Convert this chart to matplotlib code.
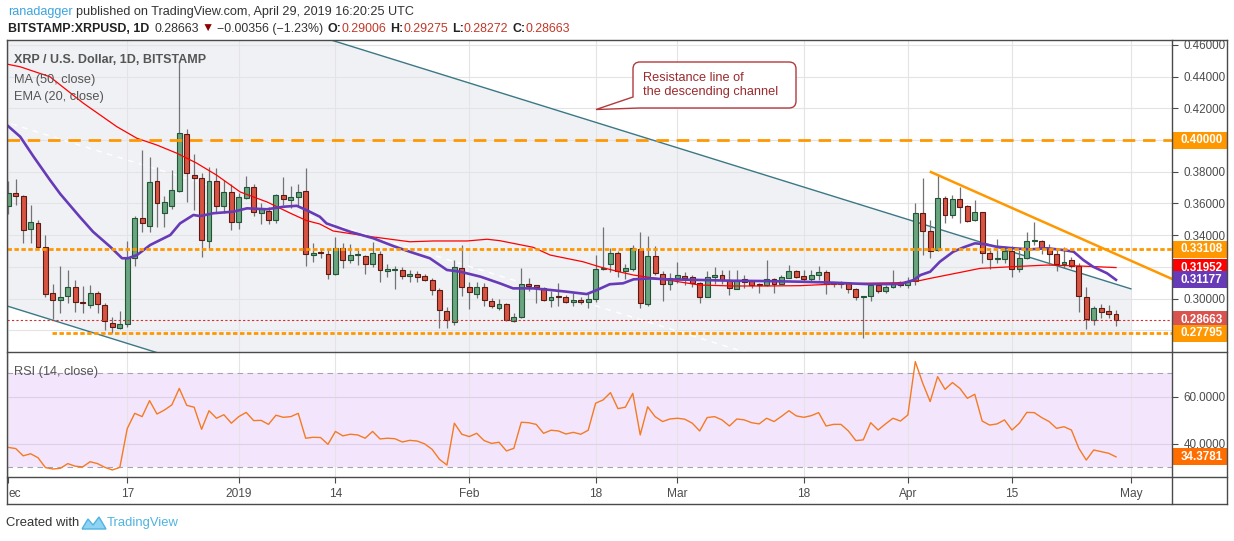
import numpy as np
import matplotlib
matplotlib.use("Agg")
import matplotlib.pyplot as plt
from matplotlib.lines import Line2D
from matplotlib.patches import Rectangle, PathPatch
from matplotlib.path import Path
from matplotlib.transforms import blended_transform_factory

W, H = 1234, 541
plt.rcParams["font.family"] = ["Liberation Sans", "DejaVu Sans"]

# ---- data (XRP/USD daily, 1 Dec 2018 .. 29 Apr 2019) ----
opens = [.3584, .3664, .3647, .3437, .3474, .3327, .3033, .2989, .3014, .3074,
         .2976, .2957, .3033, .2957, .2847, .2812, .2837, .3257, .3506, .3459,
         .3739, .3537, .3585, .3680, .4036, .3777, .3758, .3361, .3740, .3586,
         .3672, .3481, .3636, .3705, .3538, .3552, .3493, .3651, .3619, .3638,
         .3676, .3277, .3289, .3279, .3156, .3317, .3241, .3273, .3266, .3220,
         .3279, .3172, .3178, .3178, .3140, .3155, .3140, .3115, .3052, .2919,
         .2854, .3190, .3075, .3030, .3071, .2982, .2942, .2963, .2856, .2881,
         .3090, .3085, .3064, .2989, .3016, .3010, .2976, .2989, .2976, .2995,
         .3184, .3216, .3285, .3174, .3184, .3311, .2963, .3270, .3153, .3090,
         .3127, .3142, .3134, .3096, .3008, .3138, .3146, .3115, .3058, .3123,
         .3108, .3092, .3083, .3121, .3090, .3127, .3173, .3140, .3125, .3148,
         .3165, .3089, .3089, .3096, .3058, .3008, .3014, .3085, .3045, .3071,
         .3102, .3083, .3112, .3538, .3426, .3306, .3632, .3525, .3626, .3582,
         .3493, .3544, .3285, .3247, .3251, .3300, .3184, .3254, .3363, .3363,
         .3317, .3279, .3216, .3241, .3205, .3008, .2864, .2938, .2919, .29006]
highs = [.3743, .3752, .3650, .3590, .3495, .3400, .3090, .3205, .3180, .3117,
         .3080, .3083, .3047, .2970, .2885, .2921, .3363, .3520, .3937, .3895,
         .3832, .3647, .3810, .4500, .4068, .3910, .3790, .3832, .3825, .3748,
         .3722, .3664, .3773, .3720, .3600, .3580, .3657, .3768, .3710, .3722,
         .3825, .3348, .3317, .3321, .3390, .3348, .3344, .3306, .3274, .3356,
         .3300, .3218, .3207, .3200, .3180, .3174, .3153, .3131, .3064, .2948,
         .3243, .3338, .3106, .3106, .3096, .3001, .2995, .2970, .2907, .3194,
         .3131, .3086, .3075, .3047, .3100, .3022, .3033, .3011, .3037, .3274,
         .3453, .3320, .3300, .3218, .3338, .3421, .3394, .3330, .3174, .3159,
         .3232, .3169, .3148, .3102, .3174, .3197, .3180, .3180, .3180, .3148,
         .3110, .3096, .3243, .3127, .3148, .3211, .3180, .3180, .3180, .3205,
         .3180, .3098, .3110, .3106, .3068, .3014, .3100, .3090, .3085, .3180,
         .3110, .3137, .3604, .3762, .3495, .3786, .3647, .3653, .3702, .3590,
         .3621, .3544, .3306, .3374, .3331, .3331, .3306, .3420, .3483, .3369,
         .3344, .3306, .3323, .3264, .3222, .3074, .2955, .2965, .2959, .29275]
lows = [.3531, .3590, .3350, .3350, .3310, .3011, .2869, .2907, .2970, .2917,
        .2907, .2942, .2907, .2800, .2780, .2808, .2822, .3205, .3421, .3421,
        .3453, .3453, .3564, .3675, .3610, .3558, .3264, .3310, .3538, .3538,
        .3432, .3438, .3626, .3520, .3468, .3468, .3474, .3590, .3573, .3586,
        .3205, .3232, .3254, .3121, .3148, .3194, .3226, .3211, .3156, .3200,
        .3106, .3138, .3062, .3123, .3106, .3106, .3112, .3022, .2812, .2816,
        .2833, .3016, .2934, .3001, .2955, .2942, .2927, .2858, .2854, .2875,
        .3047, .2970, .2984, .2948, .2955, .2970, .2953, .2963, .2938, .2980,
        .3180, .3169, .3138, .3121, .3174, .2942, .2955, .3150, .2984, .3054,
        .3096, .3085, .3074, .2974, .3008, .3092, .3092, .3022, .3058, .3064,
        .3064, .3037, .3080, .3037, .3089, .3127, .3127, .3106, .3111, .3117,
        .3027, .3074, .3064, .3033, .2991, .2753, .2984, .3037, .3037, .3064,
        .3074, .3068, .3083, .3274, .3257, .3297, .3474, .3506, .3478, .3485,
        .3490, .3226, .3184, .3222, .3222, .3138, .3167, .3247, .3338, .3279,
        .3216, .3174, .3191, .3193, .2917, .2806, .2833, .2875, .2875, .28272]
closes = [.3664, .3647, .3430, .3483, .3323, .3027, .2989, .3008, .3071, .2976,
          .2971, .3033, .2963, .2856, .2818, .2837, .3257, .3506, .3474, .3738,
          .3601, .3607, .3685, .4042, .3790, .3758, .3367, .3740, .3586, .3672,
          .3481, .3638, .3705, .3544, .3567, .3493, .3651, .3630, .3638, .3670,
          .3279, .3285, .3285, .3153, .3317, .3241, .3273, .3275, .3216, .3285,
          .3178, .3186, .3186, .3140, .3155, .3138, .3115, .3052, .2926, .2864,
          .3197, .3075, .3043, .3075, .2989, .2951, .2963, .2862, .2881, .3090,
          .3081, .3075, .2989, .3010, .3008, .2976, .2989, .2976, .2995, .3184,
          .3191, .3285, .3174, .3191, .3317, .2970, .3270, .3159, .3090, .3127,
          .3148, .3131, .3096, .3008, .3134, .3146, .3115, .3064, .3115, .3106,
          .3083, .3083, .3121, .3090, .3134, .3173, .3134, .3125, .3148, .3165,
          .3090, .3096, .3094, .3058, .3008, .3014, .3085, .3045, .3073, .3098,
          .3083, .3112, .3538, .3424, .3298, .3632, .3525, .3626, .3577, .3491,
          .3544, .3285, .3247, .3256, .3300, .3184, .3254, .3363, .3367, .3317,
          .3279, .3218, .3232, .3205, .3016, .2869, .2938, .2917, .2900, .28663]

rsi = [38.4, 37.9, 34.8, 35.7, 34.0, 29.8, 29.2, 29.5, 31.5, 30.4,
       30.1, 32.3, 31.5, 29.9, 28.8, 29.9, 46.4, 52.9, 51.5, 58.3,
       52.6, 54.3, 56.5, 63.5, 56.3, 55.5, 46.1, 54.0, 50.8, 52.3,
       48.7, 51.5, 53.3, 49.8, 49.9, 48.2, 52.1, 51.2, 51.5, 52.9,
       42.3, 42.7, 42.6, 39.7, 45.2, 43.3, 44.0, 43.7, 42.3, 45.2,
       42.0, 42.3, 42.1, 40.7, 41.4, 41.1, 39.9, 37.6, 33.3, 30.9,
       48.7, 44.0, 43.0, 44.4, 41.3, 40.1, 40.6, 36.9, 38.0, 49.1,
       48.9, 48.2, 44.4, 45.7, 45.4, 44.1, 44.8, 44.0, 45.7, 57.2,
       58.6, 61.7, 54.9, 55.5, 61.4, 43.7, 55.7, 51.5, 49.4, 50.5,
       50.8, 50.4, 48.7, 45.4, 51.1, 51.5, 50.1, 47.5, 50.5, 50.1,
       48.9, 48.4, 50.8, 49.4, 51.6, 54.0, 51.8, 51.2, 51.9, 53.2,
       47.5, 48.2, 48.2, 45.4, 41.3, 41.6, 48.9, 45.8, 48.4, 50.8,
       49.6, 52.2, 74.9, 65.7, 57.9, 68.5, 63.1, 66.0, 63.5, 59.3,
       61.0, 49.6, 47.9, 48.4, 50.1, 45.8, 48.7, 53.3, 53.2, 51.1,
       49.4, 46.5, 47.2, 45.8, 38.0, 33.0, 37.3, 36.6, 35.9, 34.3781]

# moving averages, read at the points where the curves could be followed
ma_days = [-0.2, 1.6, 5.6, 10.1, 14.6, 17.3, 20.0, 22.7, 25.3, 28.0, 31.2, 34.8,
           37.9, 40.1, 41.9, 43.7, 48.2, 54.0, 57.2, 61.7, 64.4, 66.1, 70.6, 72.9,
           77.3, 79.6, 82.3, 84.1, 88.6, 93.0, 97.5, 102.0, 106.5, 111.0, 115.5,
           120.0, 122.7, 124.0, 128.5, 130.7, 135.2, 139.7, 144.2, 149.0]
ma50 = [.4479, .4462, .4399, .4232, .4084, .4011, .3968, .3916, .3855, .3779, .3672,
        .3609, .3539, .3492, .3470, .3426, .3394, .3358, .3363, .3363, .3374, .3365,
        .3323, .3274, .3232, .3199, .3167, .3148, .3117, .3085, .3079, .3079, .3081,
        .3091, .3096, .3100, .3114, .3127, .3169, .3190, .3201, .3211, .3205, .31952]
ema_days = [-0.2, 1.6, 3.4, 5.6, 7.0, 9.6, 11.4, 13.7, 15.3, 16.1, 17.3, 19.1, 21.8,
            23.1, 24.9, 25.8, 27.6, 30.3, 32.1, 34.8, 37.0, 38.8, 40.1, 41.9, 42.8,
            46.0, 49.1, 51.8, 54.0, 56.7, 59.0, 60.8, 63.5, 66.1, 67.9, 70.6, 72.9,
            75.1, 77.8, 79.2, 80.9, 82.7, 84.1, 86.3, 88.6, 93.0, 97.5, 102.0, 106.5,
            111.0, 115.5, 120.0, 121.8, 122.7, 124.0, 125.3, 127.1, 128.5, 130.0,
            131.2, 132.9, 135.2, 137.4, 139.7, 141.9, 143.3, 144.6, 145.9, 147.8, 149.0]
ema20 = [.4095, .4021, .3895, .3748, .3659, .3516, .3421, .3327, .3254, .3254, .3274,
         .3338, .3401, .3474, .3527, .3520, .3538, .3548, .3569, .3563, .3579, .3585,
         .3558, .3516, .3474, .3421, .3380, .3331, .3295, .3254, .3180, .3169, .3138,
         .3096, .3064, .3064, .3054, .3043, .3028, .3054, .3090, .3096, .3121, .3127,
         .3121, .3117, .3112, .3110, .3106, .3100, .3091, .3091, .3117, .3148, .3169,
         .3232, .3295, .3323, .3348, .3344, .3327, .3317, .3310, .3317, .3306, .3295,
         .3243, .3201, .3159, .31177]

# drawings
channel_days = [-1, 151]
channel_upper = [0.5279, 0.3061]
channel_mid = [0.4122, 0.1904]
channel_lower = [0.2965, 0.0747]
triangle_days = [124.1, 156.6]
triangle_prices = [0.3798, 0.3122]
level_top = 0.40
level_mid = 0.33108
level_low = 0.27795
level_low_from = 5.9
last_price = 0.28663

price_ticks = [0.28, 0.30, 0.32, 0.34, 0.36, 0.38, 0.40, 0.42, 0.44, 0.46]
hidden_ticks = [0.28, 0.32, 0.40]  # covered by the coloured tags
rsi_ticks = [40, 60]
date_days = [0, 16, 31, 44, 62, 79, 90, 107, 121, 135, 151]
date_labels = ["ec", "17", "2019", "14", "Feb", "18", "Mar", "18", "Apr", "15", "May"]

# ---- layout helpers (pixel positions from the top-left corner) ----
def fx(x):
    return x / W

def fy(y):
    return 1 - y / H

LEFT, RIGHT, TOP, MID, BOT, XBOT, OUTR = 7, 1172, 40, 352, 477, 504, 1227
GRID = "#e4e4e6"
FRAME = "#4a4a4a"
TXT = "#4c4c4c"

fig = plt.figure(figsize=(W / 100, H / 100), dpi=100)
fig.patch.set_facecolor("white")
ax = fig.add_axes([fx(LEFT), fy(MID), fx(RIGHT - LEFT), (MID - TOP) / H])
axr = fig.add_axes([fx(LEFT), fy(BOT), fx(RIGHT - LEFT), (BOT - MID) / H], sharex=ax)

xmin, xmax = -0.175, 156.53
ax.set_xlim(xmin, xmax)
ax.set_ylim(0.26625, 0.4631)
axr.set_ylim(25.8, 79.0)

for a in (ax, axr):
    for s in a.spines.values():
        s.set_visible(False)
    a.set_facecolor("white")
    a.yaxis.tick_right()
    a.tick_params(axis="y", length=4, width=0.8, color=FRAME, pad=4.5,
                  labelsize=8.4, labelcolor=TXT)
    for d in date_days:
        a.axvline(d, color=GRID, lw=0.8, zorder=0.5)

ax.tick_params(axis="x", bottom=False, labelbottom=False)
ax.set_yticks(price_ticks)
ax.set_yticklabels(["" if p in hidden_ticks else f"{p:.5f}" for p in price_ticks])
for p in price_ticks:
    ax.axhline(p, color=GRID, lw=0.8, zorder=0.5)

axr.set_xticks(date_days)
axr.set_xticklabels(date_labels)
axr.tick_params(axis="x", length=4, width=0.8, color=FRAME, pad=4,
                labelsize=8.6, labelcolor=TXT)
axr.get_xticklabels()[0].set_ha("left")
axr.set_yticks(rsi_ticks)
axr.set_yticklabels([f"{v:.4f}" for v in rsi_ticks])

# ---- main pane ----
ax.fill_between(channel_days, channel_lower, channel_upper, color="#f0f1f4",
                lw=0, zorder=0.2)
ax.plot(channel_days, channel_upper, color="#3b7885", lw=1.0, zorder=2)
ax.plot(channel_days, channel_lower, color="#3b7885", lw=1.0, zorder=2)
ax.plot(channel_days, channel_mid, color="white", lw=1.0, ls=(0, (4, 4)), zorder=1)

days = np.arange(len(closes))
o, h, l, c = map(np.array, (opens, highs, lows, closes))
up = c >= o
lo_body = np.minimum(o, c)
body = np.maximum(np.abs(c - o), 0.0007)
ax.vlines(days, l, h, color="#737375", lw=0.9, zorder=3)
ax.bar(days[up], body[up], 0.66, bottom=lo_body[up], color="#6aa57f",
       edgecolor="#225437", lw=0.8, zorder=3.5)
ax.bar(days[~up], body[~up], 0.66, bottom=lo_body[~up], color="#d75442",
       edgecolor="#5b1a13", lw=0.8, zorder=3.5)

ax.plot(ma_days, ma50, color="#ff0000", lw=0.9, zorder=4)
ax.plot(ema_days, ema20, color="#673ab7", lw=1.9, zorder=4)

ax.axhline(level_top, color="#ff9800", lw=2.0, ls=(0, (4.5, 2.8)), zorder=5)
ax.axhline(level_mid, color="#ff9800", lw=2.0, ls=(0, (1.6, 0.9)), zorder=5)
ax.plot([level_low_from, xmax], [level_low, level_low], color="#ff9800", lw=2.0,
        ls=(0, (1.6, 0.9)), zorder=5)
ax.axhline(last_price, color="#d32f2f", lw=0.8, ls=(0, (2, 2)), zorder=5)
ax.plot(triangle_days, triangle_prices, color="#ff9800", lw=1.8, zorder=5)

# ---- RSI pane ----
axr.axhspan(30, 70, color="#f3e6fc", lw=0, zorder=0.2)
for v in rsi_ticks:
    axr.axhline(v, color="#ddd0e8", lw=0.8, zorder=0.6)
for v in (30, 70):
    axr.axhline(v, color="#a8a3ad", lw=0.8, ls=(0, (5, 4)), zorder=1)
axr.plot(days, rsi, color="#f57a22", lw=1.0, zorder=4)

# ---- price scale tags ----
def tag(a, val, text, color, px_per_unit):
    tr = blended_transform_factory(a.transAxes, a.transData)
    hh = 8.5 / px_per_unit
    a.add_patch(Rectangle((1.0, val - hh), 56 / (RIGHT - LEFT), 2 * hh, transform=tr,
                          facecolor=color, edgecolor="none", clip_on=False, zorder=10))
    a.text(1 + 9 / (RIGHT - LEFT), val, text, transform=tr, ha="left", va="center",
           color="white", fontsize=8.4, fontweight="bold", clip_on=False, zorder=11)

ppu = (MID - TOP) / (0.4631 - 0.26625)
for val, color in [(0.40, "#ff9800"), (0.33108, "#ff9800"), (0.31952, "#ff0000"),
                   (0.31177, "#673ab7"), (0.28663, "#d9534f"), (0.27795, "#ff9800")]:
    tag(ax, val, f"{val:.5f}", color, ppu)

rppu = (BOT - MID) / (79.0 - 25.8)
tag(axr, rsi[-1], f"{rsi[-1]:.4f}", "#ff6d00", rppu)

# ---- frame ----
def hline(y, x0=LEFT, x1=OUTR):
    fig.add_artist(Line2D([fx(x0), fx(x1)], [fy(y), fy(y)], color=FRAME, lw=1.0))

def vline(x, y0=TOP, y1=XBOT):
    fig.add_artist(Line2D([fx(x), fx(x)], [fy(y0), fy(y1)], color=FRAME, lw=1.0))

for y in (TOP, MID, BOT, XBOT):
    hline(y)
for x in (LEFT, RIGHT, OUTR):
    vline(x)

# ---- legends inside panes ----
fig.text(fx(14), fy(60), "XRP / U.S. Dollar, 1D, BITSTAMP", fontsize=9.0,
         fontweight="bold", color="#555555", va="center")
fig.text(fx(14), fy(80), "MA (50, close)", fontsize=9.2, color="#555555", va="center")
fig.text(fx(14), fy(97), "EMA (20, close)", fontsize=9.2, color="#555555", va="center")
fig.text(fx(14), fy(372), "RSI (14, close)", fontsize=9.2, color="#555555", va="center")

# ---- callout ----
x0, x1, y0, y1, r = 633, 796, 62, 108, 7
pts = [(633, 97), (x0, y0 + r), (x0, y0), (x0 + r, y0), (x1 - r, y0), (x1, y0),
       (x1, y0 + r), (x1, y1 - r), (x1, y1), (x1 - r, y1), (640, y1), (596, 109.5),
       (633, 97)]
codes = [Path.MOVETO, Path.LINETO, Path.CURVE3, Path.CURVE3, Path.LINETO, Path.CURVE3,
         Path.CURVE3, Path.LINETO, Path.CURVE3, Path.CURVE3, Path.LINETO, Path.LINETO,
         Path.CLOSEPOLY]
bubble = Path([(fx(x), fy(y)) for x, y in pts], codes)
fig.add_artist(PathPatch(bubble, transform=fig.transFigure, facecolor="white",
                         edgecolor="#b23a3d", lw=1.0, zorder=20))
fig.text(fx(643), fy(78), "Resistance line of", fontsize=9.2, color="#9b2a2d",
         va="center", zorder=21)
fig.text(fx(643), fy(92), "the descending channel", fontsize=9.2, color="#9b2a2d",
         va="center", zorder=21)

# ---- header and footer rows ----
renderer = fig.canvas.get_renderer()

def text_row(x, y, parts, size):
    for s, color, weight, gap in parts:
        t = fig.text(fx(x + gap), fy(y), s, fontsize=size, color=color,
                     fontweight=weight, va="center", ha="left")
        x = t.get_window_extent(renderer).x1

text_row(8, 12, [("ranadagger", "#3ba3e0", "normal", 0),
                 ("published on TradingView.com, April 29, 2019 16:20:25 UTC", "#333333",
                  "normal", 3)], 9.1)
red = "#c0392b"
text_row(8, 29, [("BITSTAMP:XRPUSD, 1D", "#222222", "bold", 0),
                 ("0.28663", "#333333", "normal", 5),
                 ("\u25bc", "#8b0000", "normal", 3),
                 ("\u22120.00356 (\u22121.23%)", "#333333", "normal", 3),
                 ("O:", "#222222", "bold", 4), ("0.29006", red, "normal", 0),
                 ("H:", "#222222", "bold", 4), ("0.29275", red, "normal", 0),
                 ("L:", "#222222", "bold", 4), ("0.28272", red, "normal", 0),
                 ("C:", "#222222", "bold", 4), ("0.28663", red, "normal", 0)], 8.9)

text_row(6, 523, [("Created with", "#333333", "normal", 0)], 9.4)
logo = Path([(fx(x), fy(y)) for x, y in [(82, 529), (88, 519), (93, 525), (99, 517),
                                        (106, 529), (82, 529)]])
fig.add_artist(PathPatch(logo, transform=fig.transFigure, facecolor="#8fd3f2",
                         edgecolor="#4fb3e0", lw=1.0))
text_row(107, 523, [("TradingView", "#4fb3e0", "normal", 0)], 9.4)

fig.savefig("out.png", dpi=100, facecolor="white")
